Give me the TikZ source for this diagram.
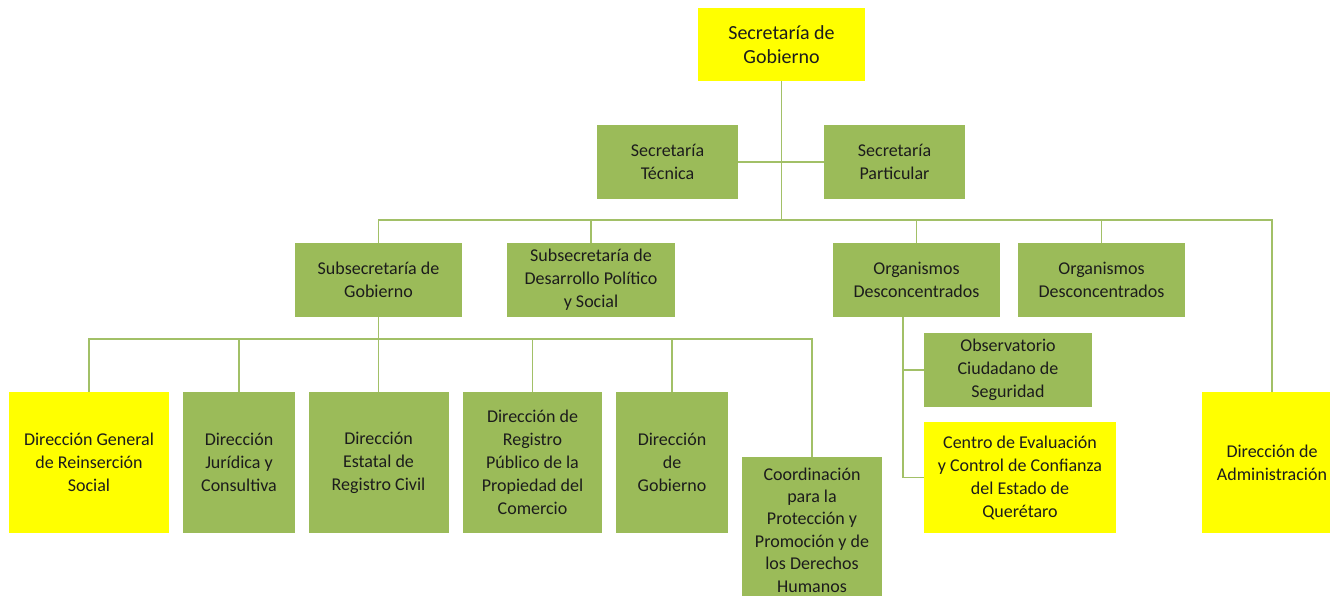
\documentclass[tikz,border=0pt]{standalone}
\usepackage{fontspec}
\setmainfont{Carlito}
\definecolor{olive}{HTML}{9BBB59}
\definecolor{lineg}{HTML}{A2C067}
\definecolor{yel}{HTML}{FFFF00}
\definecolor{txt}{HTML}{1C1C1C}
\begin{document}
\begin{tikzpicture}[x=1pt,y=-1pt,
  box/.style={rectangle, inner sep=2pt, align=center, text=txt,
    font=\fontsize{18}{23}\selectfont, draw=none},
  gbox/.style={box, fill=olive},
  ybox/.style={box, fill=yel},
  conn/.style={draw=lineg, line width=1.6pt}]
\useasboundingbox (0,0) rectangle (1330,596);
\fill[white] (0,0) rectangle (1330,596);
\clip (0,0) rectangle (1330,596);
% level 0
\node[ybox, minimum width=167, minimum height=73, font=\fontsize{20}{24}\selectfont] (sg) at (781.5,44.5) {Secretaría de\\Gobierno};
% level 1
\node[gbox, minimum width=141, minimum height=74] (st) at (667.5,162) {Secretaría\\Técnica};
\node[gbox, minimum width=141, minimum height=74] (sp) at (894.5,162) {Secretaría\\Particular};
% level 2
\node[gbox, minimum width=167, minimum height=74] (ssg) at (378.5,280) {Subsecretaría de\\Gobierno};
\node[gbox, minimum width=168, minimum height=74] (ssd) at (591,280) {Subsecretaría de\\Desarrollo Político\\y Social};
\node[gbox, minimum width=167, minimum height=74] (og1) at (916.5,280) {Organismos\\Desconcentrados};
\node[gbox, minimum width=167, minimum height=74] (og2) at (1101.5,280) {Organismos\\Desconcentrados};
\node[ybox, minimum width=140, minimum height=141] (da) at (1272,462.5) {Dirección de\\Administración};
% level 3
\node[ybox, minimum width=160, minimum height=141] (dg) at (89,462.5) {Dirección General\\de Reinserción\\Social};
\node[gbox, minimum width=112, minimum height=141] (dj) at (239,462.5) {Dirección\\Jurídica y\\Consultiva};
\node[gbox, minimum width=140, minimum height=141] (de) at (378.5,462.5) {Dirección\\Estatal de\\Registro Civil};
\node[gbox, minimum width=139, minimum height=141] (drp) at (532.5,462.5) {Dirección de\\Registro\\Público de la\\Propiedad del\\Comercio};
\node[gbox, minimum width=112, minimum height=141] (dgo) at (672,462.5) {Dirección\\de\\Gobierno};
\node[gbox, minimum width=140, minimum height=146, font=\fontsize{18}{22.4}\selectfont] (cp) at (812,530) {Coordinación\\para la\\Protección y\\Promoción y de\\los Derechos\\Humanos};
\node[gbox, minimum width=168, minimum height=74] (obs) at (1008,370) {Observatorio\\Ciudadano de\\Seguridad};
\node[ybox, minimum width=192, minimum height=111] (cec) at (1020,477.5) {Centro de Evaluación\\y Control de Confianza\\del Estado de\\Querétaro};
% connectors
\coordinate (b1) at (781.5,220);
\coordinate (b2) at (378.5,339);
\coordinate (v1) at (903,317);
\draw[conn] (sg.south) -- (b1);
\draw[conn] (st.east) -- (sp.west);
\draw[conn] (ssg.north) |- (da.north |- b1) -- (da.north);
\draw[conn] (ssd.north) -- (ssd.north |- b1);
\draw[conn] (og1.north) -- (og1.north |- b1);
\draw[conn] (og2.north) -- (og2.north |- b1);
\draw[conn] (dg.north) |- (cp.north |- b2) -- (cp.north);
\draw[conn] (ssg.south) -- (de.north);
\draw[conn] (dj.north) -- (dj.north |- b2);
\draw[conn] (drp.north) -- (drp.north |- b2);
\draw[conn] (dgo.north) -- (dgo.north |- b2);
\draw[conn] (v1) |- (cec.west);
\draw[conn] (obs.west) -- (obs.west -| v1);
\end{tikzpicture}
\end{document}
